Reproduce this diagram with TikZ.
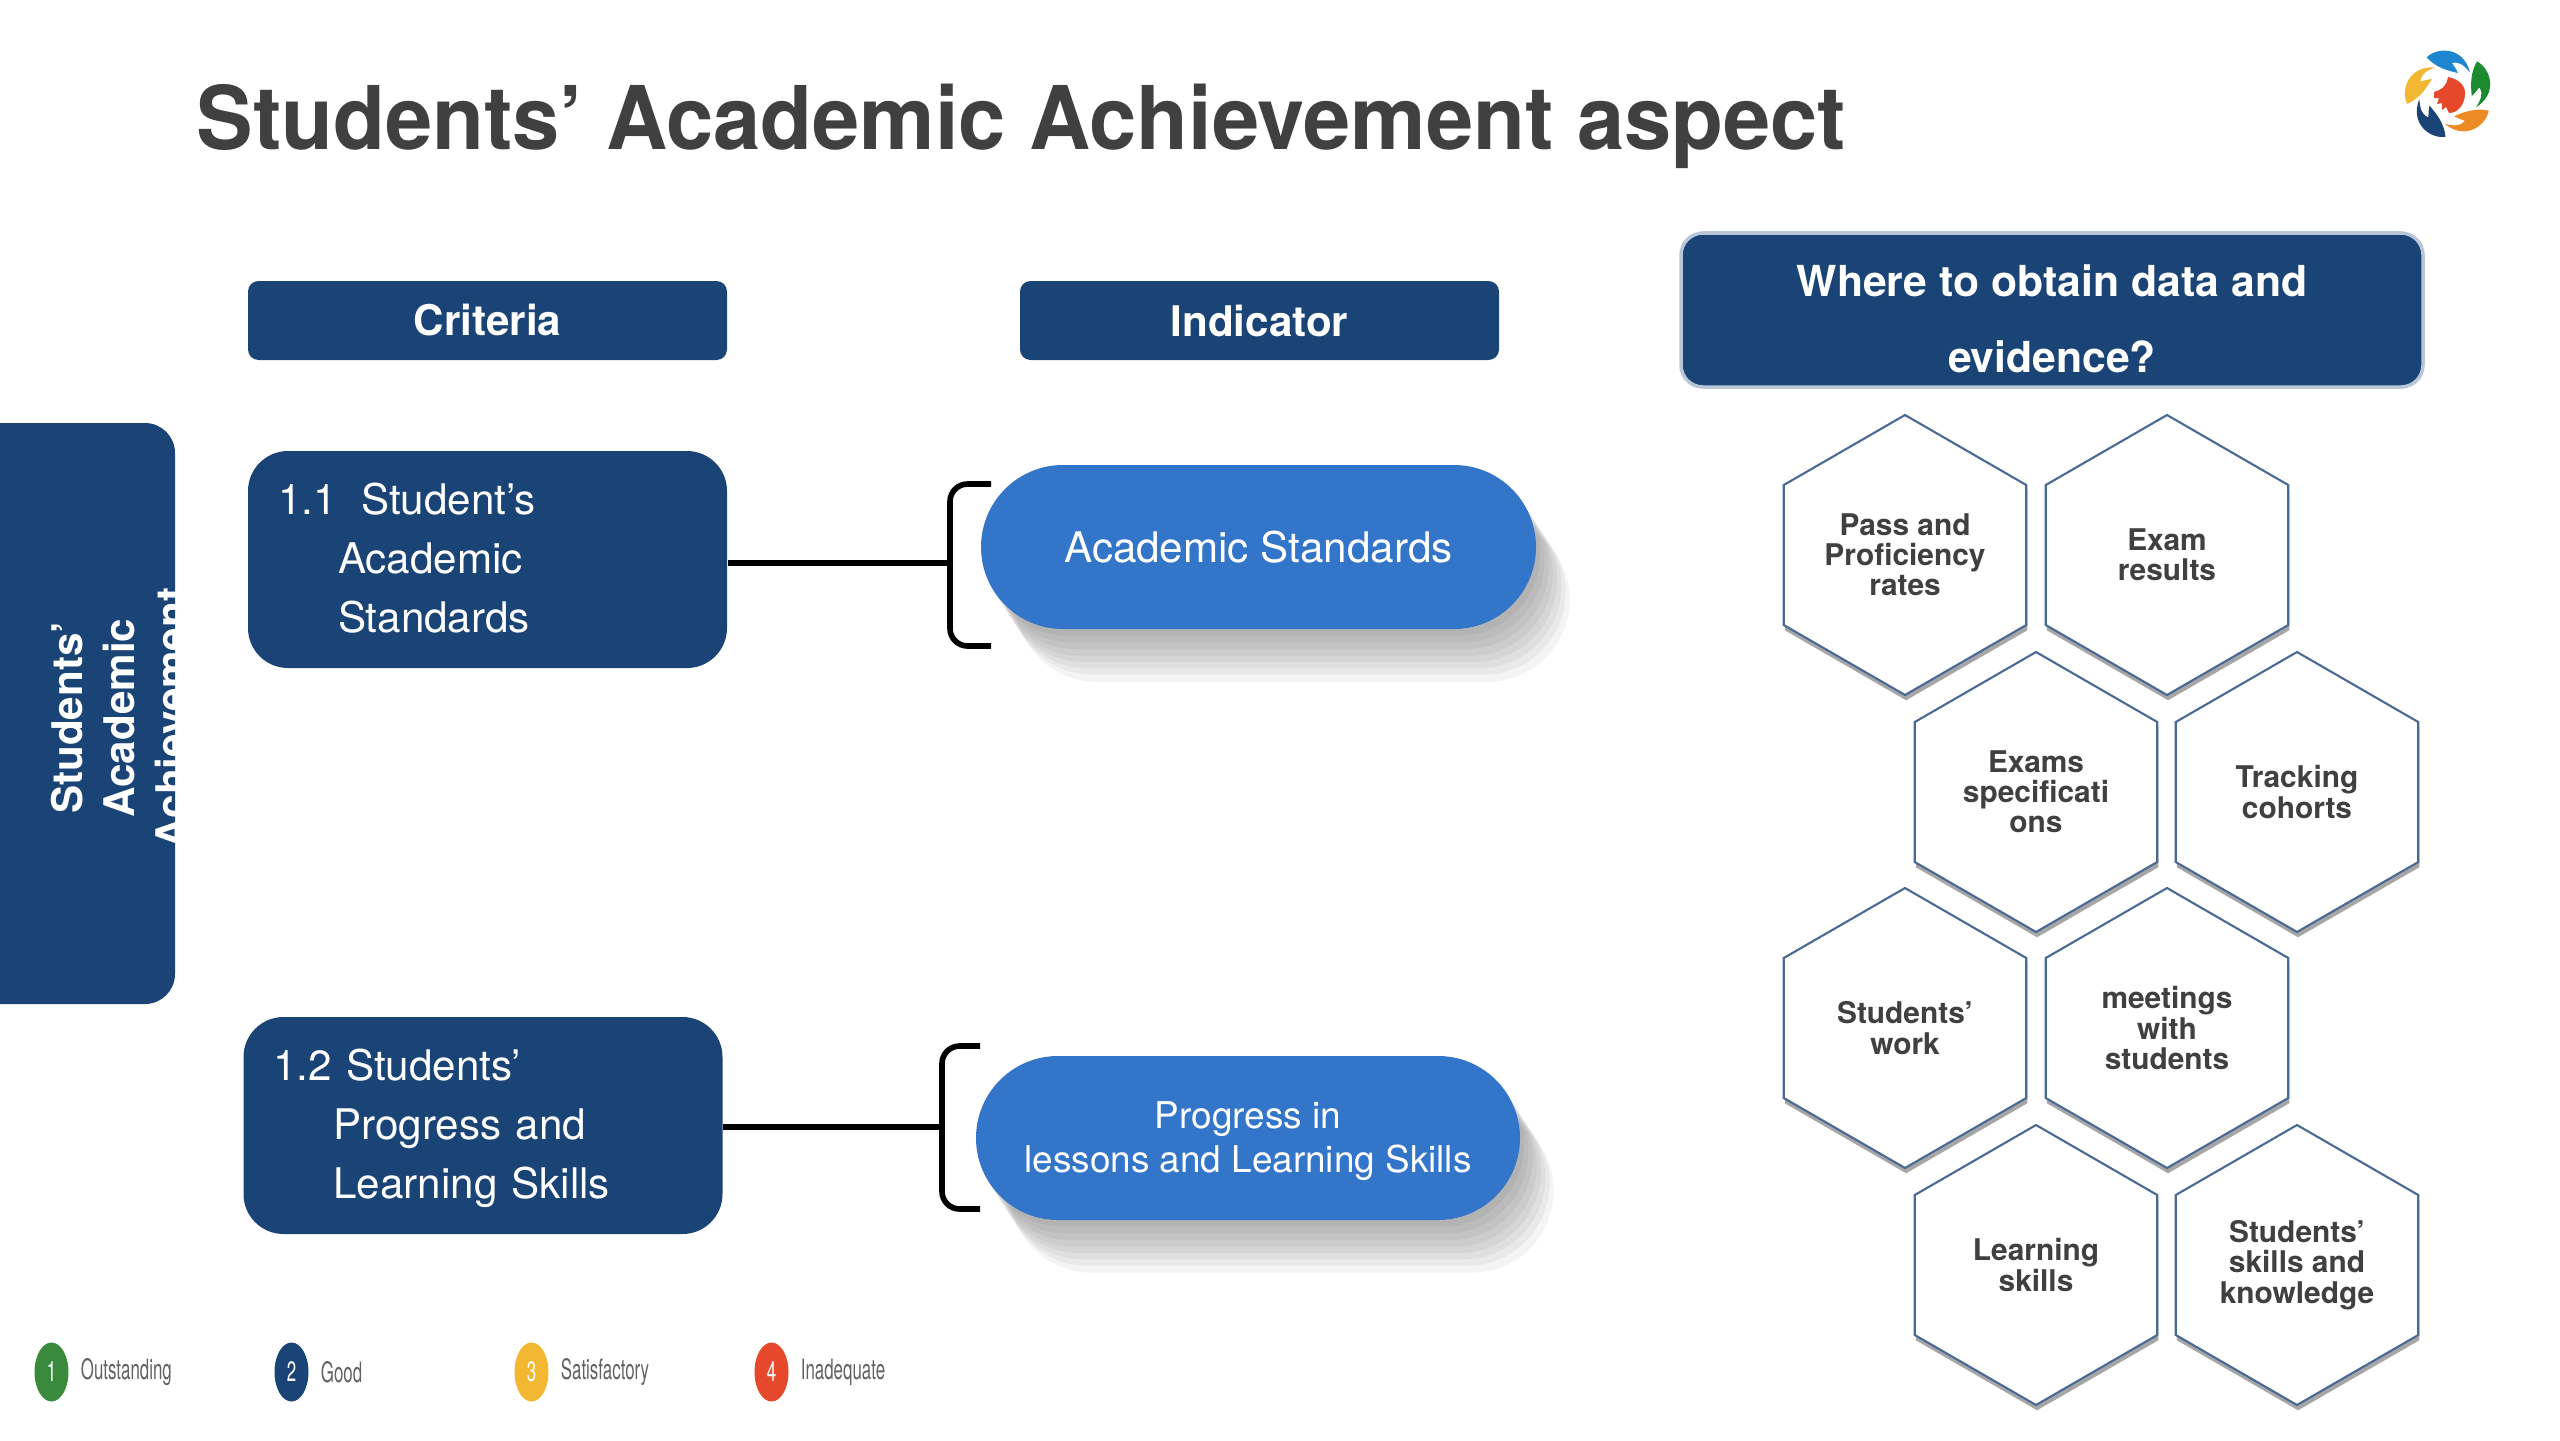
\documentclass[tikz,border=0pt]{standalone}
\usepackage{fontspec}
\setmainfont{TeX Gyre Heros}
\usetikzlibrary{positioning,shapes.geometric,shadows}
\definecolor{navy}{HTML}{1B4476}
\definecolor{pillblue}{HTML}{3375C9}
\definecolor{inkgray}{HTML}{404040}
\definecolor{hexline}{HTML}{4A6A96}
\definecolor{srcline}{HTML}{B9C6D8}
\definecolor{lgreen}{HTML}{3A8A3E}
\definecolor{lyellow}{HTML}{F3B832}
\definecolor{lred}{HTML}{E5482A}
\definecolor{lorange}{HTML}{EC8A24}
\definecolor{lblue}{HTML}{1E86CE}
\definecolor{lgreenb}{HTML}{1C8A2E}
\tikzset{
  softlayer/.style 2 args={general shadow={shadow xshift=#1,shadow yshift=#2,fill=black,opacity=.042}},
  softshadow/.style={softlayer={9.6pt}{-15pt},softlayer={8.4pt}{-13pt},softlayer={7.2pt}{-11.2pt},
    softlayer={6pt}{-9.4pt},softlayer={4.8pt}{-7.6pt},softlayer={3.6pt}{-5.7pt},
    softlayer={2.4pt}{-3.8pt},softlayer={1.2pt}{-1.9pt}},
  headbox/.style={fill=navy,text=white,rounded corners=3pt,minimum width=4.79cm,minimum height=.79cm,
    inner sep=0pt,font=\fontsize{12}{14}\selectfont\bfseries},
  critbox/.style={fill=navy,text=white,rounded corners=.4cm,minimum width=4.79cm,minimum height=2.17cm,
    inner xsep=.3cm,inner ysep=0pt,text width=4.19cm,align=left,font=\fontsize{12}{16.7}\selectfont},
  pill/.style={fill=pillblue,text=white,rounded corners=.82cm,minimum height=1.64cm,inner sep=0pt,
    align=center,softshadow},
  hexa/.style={regular polygon,regular polygon sides=6,shape border rotate=30,minimum size=2.8cm,inner sep=0pt,draw=hexline,
    line width=.6pt,fill=white,text=inkgray,align=center,font=\fontsize{8.5}{8.6}\selectfont\bfseries,
    general shadow={shadow yshift=-1.5pt,shadow xshift=.3pt,fill=black,opacity=.35}},
  bracketline/.style={line width=1.6pt,rounded corners=5pt},
  legdot/.style={ellipse,minimum width=.34cm,minimum height=.59cm,inner sep=0pt,text=white,font=\fontsize{8}{9}\selectfont},
  legtext/.style={inner sep=0pt,text=black!62,font=\fontsize{8}{9}\selectfont}
}
\begin{document}
\begin{tikzpicture}[x=1cm,y=-1cm]
  \useasboundingbox (0,0) rectangle (25.6,14.4);

  \node[anchor=base west,inner sep=0pt,text=inkgray,font=\fontsize{25}{30}\selectfont\bfseries] (title) at (1.96,1.49) {\scalebox{.966}[1]{Students’ Academic Achievement aspect}};

  \node[headbox] (crit) at (4.875,3.205) {Criteria};
  \node[headbox] (ind) at (12.595,3.205) {Indicator};
  \node[fill=navy,draw=srcline,line width=1pt,text=white,rounded corners=.22cm,minimum width=7.42cm,minimum height=1.54cm,inner sep=0pt,align=center,
    font=\fontsize{12.15}{21.8}\selectfont\bfseries] (src) at (20.52,3.10) {\rule{0pt}{14pt}Where to obtain data and\\evidence?};

  \node[fill=navy,rounded corners=.3cm,minimum width=2.15cm,minimum height=5.81cm,inner sep=0pt] (side) at (.675,7.135) {};
  \node[rotate=90,inner sep=0pt,text=white,align=center,font=\fontsize{12}{14.8}\selectfont\bfseries] (sidetext) at (1.19,7.18) {Students’\\Academic\\Achievement};

  \node[critbox] (c1) at (4.875,5.595) {1.1\hspace{7pt}Student’s\\\hspace*{6mm}Academic\\\hspace*{6mm}Standards\rule[-1pt]{0pt}{1pt}};
  \node[critbox] (c2) at (4.83,11.255) {\rule{0pt}{10.5pt}1.2 Students'\\\hspace*{6mm}Progress and\\\hspace*{6mm}Learning Skills};

  \node[pill,minimum width=5.55cm,font=\fontsize{12}{14}\selectfont] (p1) at (12.585,5.47) {Academic Standards};
  \node[pill,minimum width=5.44cm,font=\fontsize{10.5}{12.5}\selectfont] (p2) at (12.48,11.38) {\rule{0pt}{9.5pt}Progress in\\lessons and Learning Skills};

  \coordinate (b1) at (9.50,5.63);
  \coordinate (b2) at (9.42,11.27);
  \draw[bracketline] (9.91,4.84) -| (9.50,6.46) -- (9.91,6.46);
  \draw[bracketline] (9.80,10.46) -| (9.42,12.09) -- (9.80,12.09);
  \draw[line width=1.6pt] (c1.east |- b1) -- (b1);
  \draw[line width=1.6pt] (c2.east |- b2) -- (b2);

  \node[hexa] (h1) at (19.05,5.55) {Pass and\\Proficiency\\rates};
  \node[hexa] (h2) at (21.67,5.55) {Exam\\results};
  \node[hexa] (h3) at (20.36,7.92) {Exams\\specificati\\ons};
  \node[hexa] (h4) at (22.97,7.92) {Tracking\\cohorts};
  \node[hexa] (h5) at (19.05,10.28) {Students’\\work};
  \node[hexa] (h6) at (21.67,10.28) {meetings\\with\\students};
  \node[hexa] (h7) at (20.36,12.65) {Learning\\skills};
  \node[hexa] (h8) at (22.97,12.65) {Students’\\skills and\\knowledge};

  \foreach \i/\xc/\col/\txt in {1/0.515/lgreen/Outstanding,2/2.915/navy/Good,3/5.315/lyellow/Satisfactory,4/7.715/lred/Inadequate}{
    \node[legdot,fill=\col] (g\i) at (\xc,13.72) {\scalebox{.6}[1]{\i}};
    \node[legtext,right=.11cm of g\i] (gt\i) {\scalebox{.6}[1]{\txt}};
  }

  \begin{scope}[shift={(24.49,.94)},y=1cm]
    \foreach \k/\col in {0/lblue,1/lgreenb,2/lorange,3/navy,4/lyellow}{
      \fill[\col,rotate=-72*\k] (-.223,.367) .. controls (-.12,.47) and (.14,.48) .. (.21,.217)
        .. controls (.16,.27) and (.12,.33) .. (.03,.31) .. controls (.05,.28) and (.07,.25) .. (.09,.21)
        .. controls (0,.23) and (-.13,.26) .. (-.223,.367) -- cycle;
    }
    \fill[lred] (-.15,.02) .. controls (-.05,.05) and (-.02,.1) .. (-.01,.17)
      .. controls (.1,.15) and (.17,.08) .. (.16,-.01) .. controls (.15,-.12) and (.08,-.19) .. (0,-.19)
      -- (-.03,-.13) -- (-.07,-.16) -- (-.07,-.09) -- (-.12,-.1) -- (-.1,-.04) -- (-.15,-.04) -- cycle;
  \end{scope}
\end{tikzpicture}
\end{document}
